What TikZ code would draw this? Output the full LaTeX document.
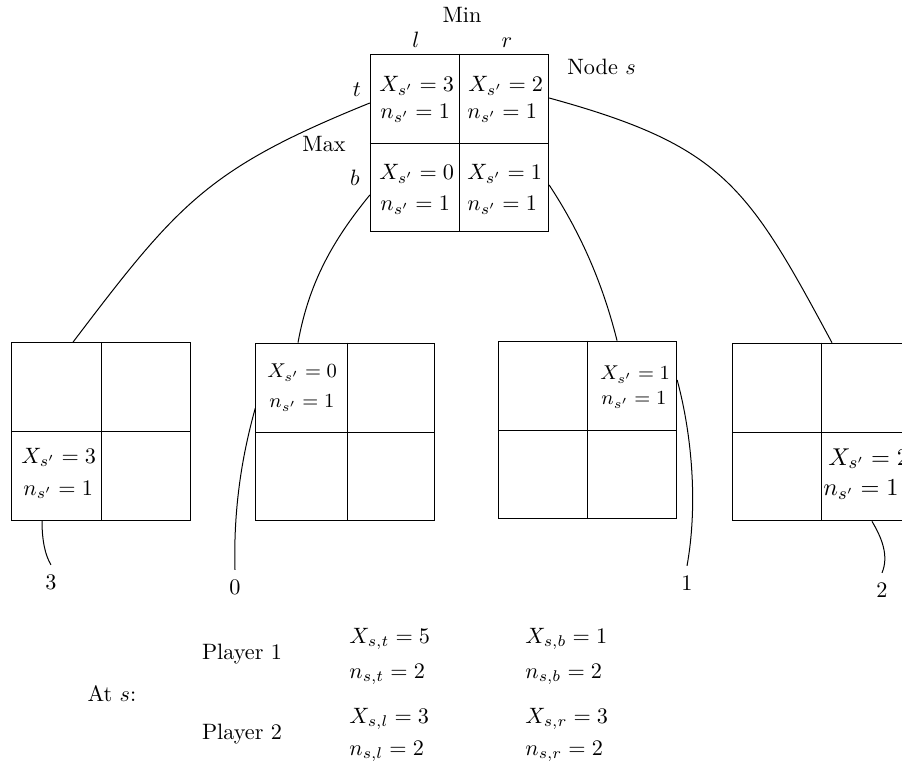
\documentclass[tikz,border=0pt]{standalone}
\begin{document}
\begin{tikzpicture}[x=0.45pt,y=-0.45pt,
  box/.style={draw, rectangle, minimum width=80.3pt, minimum height=80pt, inner sep=0pt},
  lt/.style={inner sep=0pt, anchor=base west},
  ct/.style={inner sep=0pt, anchor=base},
  leaf/.style={inner sep=4pt, anchor=base},
  conn/.style={line width=0.45pt}]
\path[use as bounding box] (0,0) rectangle (902,764);
\clip (0,0) rectangle (902,764);

% root box
\node[box] (S) at (459.5,143) {};
\draw (S.north) -- (S.south) (S.west) -- (S.east);
\node[lt] (s11x) at (379,92) {$X_{s'}=3$};
\node[lt] (s11n) at (380,119) {$n_{s'}=1$};
\node[lt] (s12x) at (468,92) {$X_{s'}=2$};
\node[lt] (s12n) at (467,119) {$n_{s'}=1$};
\node[lt] (s21x) at (379,180) {$X_{s'}=0$};
\node[lt] (s21n) at (380,211) {$n_{s'}=1$};
\node[lt] (s22x) at (467,180) {$X_{s'}=1$};
\node[lt] (s22n) at (467,211) {$n_{s'}=1$};

\node[ct] (min) at (462,23) {Min};
\node[ct] (cl) at (416,48) {$l$};
\node[ct] (cr) at (507,48) {$r$};
\node[ct] (nodes) at (601.5,75) {Node $s$};
\node[ct] (rt) at (357,97) {$t$};
\node[ct] (max) at (324,152) {Max};
\node[ct] (rb) at (355,186) {$b$};

% child boxes
\node[box] (B1) at (101,431.5) {};
\draw (B1.north) -- (B1.south) (B1.west) -- (B1.east);
\node[lt] (b1x) at (21,463) {$X_{s'}=3$};
\node[lt] (b1n) at (23,495) {$n_{s'}=1$};

\node[box] (B2) at (345,432) {};
\draw ([xshift=0.9pt]B2.north) -- ([xshift=0.9pt]B2.south) (B2.west) -- (B2.east);
\node[lt,font=\small] (b2x) at (267,378) {$X_{s'}=0$};
\node[lt,font=\small] (b2n) at (269,408) {$n_{s'}=1$};

\node[box] (B3) at (587.5,430) {};
\draw (B3.north) -- (B3.south) (B3.west) -- (B3.east);
\node[lt,font=\small] (b3x) at (600,380) {$X_{s'}=1$};
\node[lt,font=\small] (b3n) at (601,405) {$n_{s'}=1$};

\node[box] (B4) at (821.5,432) {};
\draw (B4.north) -- (B4.south) (B4.west) -- (B4.east);
\node[lt,font=\fontsize{10.9}{13}\selectfont] (b4x) at (828,465) {$X_{s'}=2$};
\node[lt,font=\fontsize{10.9}{13}\selectfont] (b4n) at (823,496) {$n_{s'}=1$};

% leaf values
\node[leaf] (v3) at (51,589) {3};
\node[leaf] (v0) at (235,594) {0};
\node[leaf] (v1) at (687,590) {1};
\node[leaf] (v2) at (882,597) {2};

% connectors from root
\draw[conn] ([yshift=18pt]S.west) .. controls (207.8,168.6) and (178.4,203.2) .. ([xshift=-12.6pt]B1.north);
\draw[conn] ([yshift=-23.4pt]S.west) .. controls (331.9,241.3) and (308.6,284) .. ([xshift=-21.15pt]B2.north);
\draw[conn] ([yshift=20.25pt]S.east) .. controls (722.5,145.7) and (746.9,184.4) .. ([xshift=4.7pt]B4.north);
\draw[conn] ([yshift=-18.9pt]S.east) .. controls (587.6,243.4) and (606,297) .. ([xshift=13.3pt]B3.north);

% connectors to leaf values
\draw[conn] ([xshift=-26.55pt]B1.south) .. controls (42,540) and (45,555) .. (v3.north);
\draw[conn] ([yshift=10.8pt]B2.west) .. controls (245,445) and (233,500) .. (v0.north);
\draw[conn] ([yshift=22.5pt]B3.east) .. controls (692,435) and (698,505) .. (v1.north);
\draw[conn] ([xshift=22.7pt]B4.south) .. controls (882,538) and (889,556) .. (v2.north);

% summary
\node[ct] (ats) at (112,701) {At $s$:};
\node[ct] (p1) at (242,659) {Player 1};
\node[ct] (p2) at (242,739) {Player 2};
\node[lt] (xt) at (349,643) {$X_{s,t}=5$};
\node[lt] (nt) at (349,678) {$n_{s,t}=2$};
\node[lt] (xb) at (525,643) {$X_{s,b}=1$};
\node[lt] (nb) at (525,678) {$n_{s,b}=2$};
\node[lt] (xl) at (349,723) {$X_{s,l}=3$};
\node[lt] (nl) at (349,755) {$n_{s,l}=2$};
\node[lt] (xr) at (525,723) {$X_{s,r}=3$};
\node[lt] (nr) at (525,755) {$n_{s,r}=2$};
\end{tikzpicture}
\end{document}
